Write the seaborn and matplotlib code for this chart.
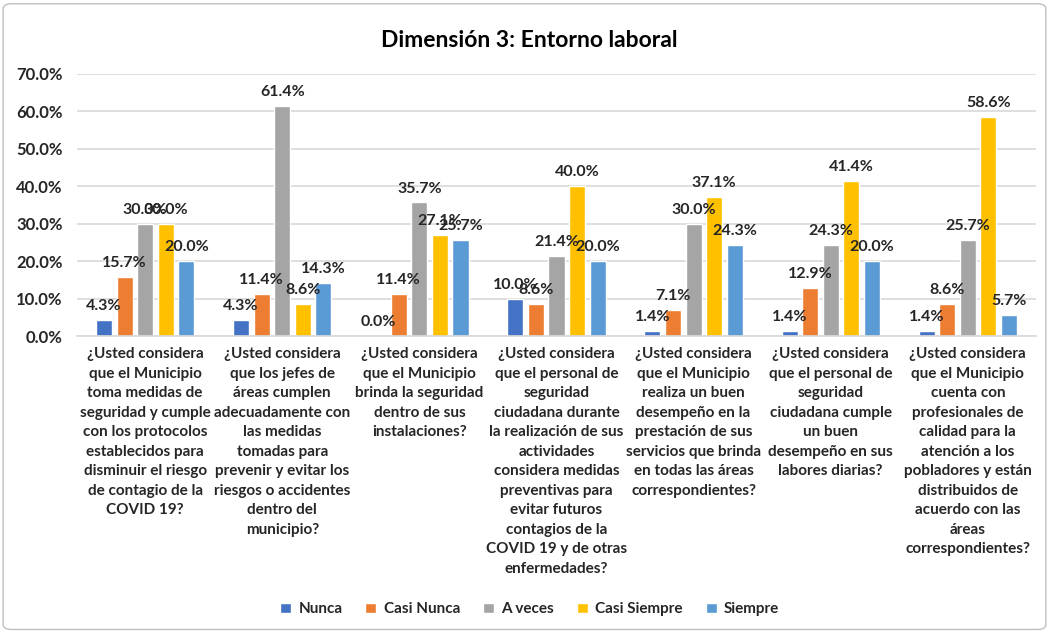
import numpy as np
import pandas as pd
import seaborn as sns
import matplotlib
matplotlib.use("Agg")
from matplotlib import pyplot as plt
from matplotlib.ticker import PercentFormatter
from matplotlib.patches import FancyBboxPatch

# Data
preguntas = [
    "¿Usted considera\nque el Municipio\ntoma medidas de\nseguridad y cumple\ncon los protocolos\nestablecidos para\ndisminuir el riesgo\nde contagio de la\nCOVID 19?",
    "¿Usted considera\nque los jefes de\náreas cumplen\nadecuadamente con\nlas medidas\ntomadas para\nprevenir y evitar los\nriesgos o accidentes\ndentro del\nmunicipio?",
    "¿Usted considera\nque el Municipio\nbrinda la seguridad\ndentro de sus\ninstalaciones?",
    "¿Usted considera\nque el personal de\nseguridad\nciudadana durante\nla realización de sus\nactividades\nconsidera medidas\npreventivas para\nevitar futuros\ncontagios de la\nCOVID 19 y de otras\nenfermedades?",
    "¿Usted considera\nque el Municipio\nrealiza un buen\ndesempeño en la\nprestación de sus\nservicios que brinda\nen todas las áreas\ncorrespondientes?",
    "¿Usted considera\nque el personal de\nseguridad\nciudadana cumple\nun buen\ndesempeño en sus\nlabores diarias?",
    "¿Usted considera\nque el Municipio\ncuenta con\nprofesionales de\ncalidad para la\natención a los\npobladores y están\ndistribuidos de\nacuerdo con las\náreas\ncorrespondientes?",
]
respuestas = ["Nunca", "Casi Nunca", "A veces", "Casi Siempre", "Siempre"]
nunca = [4.3, 4.3, 0.0, 10.0, 1.4, 1.4, 1.4]
casi_nunca = [15.7, 11.4, 11.4, 8.6, 7.1, 12.9, 8.6]
a_veces = [30.0, 61.4, 35.7, 21.4, 30.0, 24.3, 25.7]
casi_siempre = [30.0, 8.6, 27.1, 40.0, 37.1, 41.4, 58.6]
siempre = [20.0, 14.3, 25.7, 20.0, 24.3, 20.0, 5.7]
colores = ["#4472C4", "#ED7D31", "#A5A5A5", "#FFC000", "#5B9BD5"]

series = [nunca, casi_nunca, a_veces, casi_siempre, siempre]
rows = []
for resp, vals in zip(respuestas, series):
    for i, v in enumerate(vals):
        rows.append({"pregunta": i, "respuesta": resp, "valor": v / 100})
df = pd.DataFrame(rows)

sns.set_style("white")
plt.rcParams['font.family'] = ['Lato', 'DejaVu Sans']

fig = plt.figure(figsize=(10.49, 6.32), dpi=100)
ax = fig.add_axes([0.073, 0.468, 0.915, 0.415])

sns.barplot(data=df, x="pregunta", y="valor", hue="respuesta",
            hue_order=respuestas, palette=colores, width=0.75, gap=0.22,
            saturation=1, ax=ax, legend=True)

for cont in ax.containers:
    ax.bar_label(cont, labels=[f"{b.get_height()*100:.1f}%" for b in cont],
                 padding=5, fontsize=11.5, fontweight="bold", color="#262626")

ax.set_ylim(0, 0.7)
ax.set_yticks(np.arange(0, 0.71, 0.1))
ax.yaxis.set_major_formatter(PercentFormatter(1, decimals=1))
ax.set_xlim(-0.5, len(preguntas) - 0.5)
ax.set_xticks(range(len(preguntas)))
ax.set_xticklabels(preguntas, fontsize=11, fontweight="bold", linespacing=1.5,
                   color="#262626")
ax.tick_params(axis="both", length=0)
ax.tick_params(axis="x", pad=8)
ax.tick_params(axis="y", pad=10)
for lab in ax.get_yticklabels():
    lab.set_fontweight("bold")
    lab.set_fontsize(12)
    lab.set_color("#262626")
ax.grid(axis="y", color="#D9D9D9", linewidth=1.2)
ax.set_axisbelow(True)
ax.set_xlabel("")
ax.set_ylabel("")
for s in ["top", "right", "left"]:
    ax.spines[s].set_visible(False)
ax.spines["bottom"].set_color("#D9D9D9")
ax.spines["bottom"].set_linewidth(1.2)

fig.suptitle("Dimensión 3: Entorno laboral", x=0.505, y=0.952, fontsize=16.5,
             fontweight="bold", color="#000000")

handles, labels = ax.get_legend_handles_labels()
ax.legend_.remove()
fig.legend(handles, labels, loc="center", bbox_to_anchor=(0.505, 0.036), ncol=5,
           frameon=False, handlelength=0.7, handleheight=0.7, handletextpad=0.5,
           columnspacing=1.5, prop={"weight": "bold", "size": 11})

border = FancyBboxPatch((0.003, 0.004), 0.994, 0.99, boxstyle="round,pad=0,rounding_size=0.008",
                        transform=fig.transFigure, fill=False, edgecolor="#BFBFBF", linewidth=1)
fig.patches.append(border)

fig.savefig("out.png", dpi=100)
